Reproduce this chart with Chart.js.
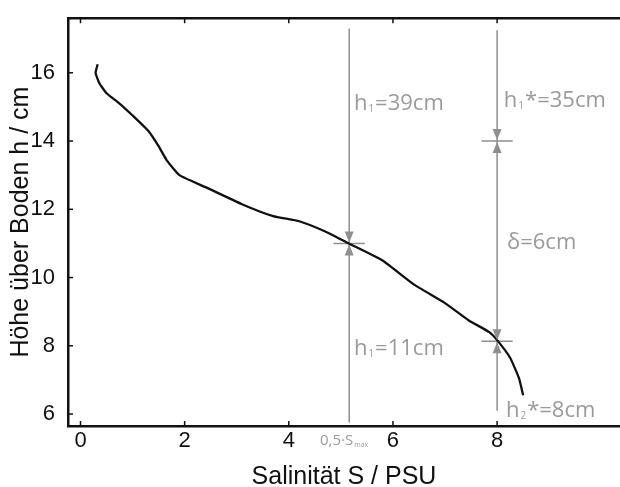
<!DOCTYPE html>
<html>
<head>
<meta charset="utf-8">
<script src="https://cdn.jsdelivr.net/npm/chart.js@4.4.1/dist/chart.umd.min.js"></script>
<style>html,body{margin:0;background:#fff}</style>
</head>
<body>
<canvas id="c" width="620" height="487"></canvas>
<script>
// salinity profile (S in PSU, h in cm)
const salinity=[0.33,0.29,0.36,0.50,0.75,1.00,1.30,1.50,1.65,1.90,2.40,3.10,3.70,4.20,4.70,5.15,5.80,6.40,7.00,7.45,7.85,8.02,8.25,8.42,8.50];
const height  =[16.25,16.0,15.7,15.4,15.1,14.75,14.3,13.85,13.45,13.0,12.65,12.15,11.8,11.65,11.35,11.0,10.5,9.8,9.25,8.75,8.4,8.13,7.65,7.05,6.55];
const xTicks=[0,2,4,6,8];
const yTicks=[6,8,10,12,14,16];
// vertical guide lines: x position, top and bottom end
const guideX=[5.16,8];
const guideTop=[17.3,17.25];
const guideBottom=[5.75,6.1];
// crosses with arrows
const crossX=[5.16,8,8];
const crossY=[11.0,14.0,8.13];

const BLACK='#111', GREY='#8f8f8f', TXT_GREY='#9a9a9a';
const SANS='"Liberation Sans", Arial, sans-serif';
const NOTE='"Open Sans", sans-serif';
const CROSS_HALF=0.3;

const notes=[
  {x:5.25,y:14.9,size:22,parts:[['h'],['1',1],['=39cm']]},
  {x:8.13,y:15.0,size:22,parts:[['h'],['1',1],['*=35cm']]},
  {x:8.19,y:10.83,size:22,parts:[['δ=6cm']]},
  {x:5.25,y:7.72,size:22,parts:[['h'],['1',1],['=11cm']]},
  {x:8.17,y:5.91,size:22,parts:[['h'],['2',1],['*=8cm']]},
  {x:4.6,y:5.08,size:15,parts:[['0,5·S'],['max',1]]}
];

const datasets=[{data:salinity.map((s,i)=>({x:s,y:height[i]})),borderColor:BLACK,borderWidth:2.3,pointRadius:0,tension:0.15,showLine:true}];
guideX.forEach((gx,i)=>datasets.push({data:[{x:gx,y:guideTop[i]},{x:gx,y:guideBottom[i]}],borderColor:GREY,borderWidth:1.5,pointRadius:0,showLine:true}));
crossX.forEach((cx,i)=>datasets.push({data:[{x:cx-CROSS_HALF,y:crossY[i]},{x:cx+CROSS_HALF,y:crossY[i]}],borderColor:GREY,borderWidth:1.5,pointRadius:0,showLine:true}));

const extras={
  id:'extras',
  afterDraw(chart){
    const {ctx,chartArea:a,scales:{x,y}}=chart;
    ctx.save();
    // top frame line and inner ticks
    ctx.strokeStyle=BLACK; ctx.lineWidth=2.5;
    ctx.beginPath(); ctx.moveTo(a.left-1,a.top); ctx.lineTo(a.right,a.top); ctx.stroke();
    ctx.lineWidth=1.5;
    xTicks.forEach(v=>{const px=x.getPixelForValue(v);
      ctx.beginPath(); ctx.moveTo(px,a.bottom); ctx.lineTo(px,a.bottom-5);
      ctx.moveTo(px,a.top); ctx.lineTo(px,a.top+5); ctx.stroke();});
    yTicks.forEach(v=>{const py=y.getPixelForValue(v);
      ctx.beginPath(); ctx.moveTo(a.left,py); ctx.lineTo(a.left+5,py); ctx.stroke();});
    // arrowheads at crosses
    ctx.fillStyle=GREY;
    crossX.forEach((cx,i)=>{
      const px=x.getPixelForValue(cx), py=y.getPixelForValue(crossY[i]);
      [-1,1].forEach(d=>{
        ctx.beginPath(); ctx.moveTo(px,py+d*1); ctx.lineTo(px-4.5,py+d*12); ctx.lineTo(px+4.5,py+d*12); ctx.closePath(); ctx.fill();
      });
    });
    // annotation texts
    ctx.fillStyle=TXT_GREY; ctx.textBaseline='alphabetic'; ctx.textAlign='left';
    notes.forEach(n=>{
      let px=x.getPixelForValue(n.x); const py=y.getPixelForValue(n.y);
      n.parts.forEach(([t,sub])=>{
        const fs=sub?Math.round(n.size*0.45):n.size;
        ctx.font=fs+'px '+NOTE;
        ctx.fillText(t,px+(sub?1:0),py+(sub?2:0));
        px+=ctx.measureText(t).width+(sub?2:0);
      });
    });
    ctx.restore();
  }
};

new Chart(document.getElementById('c'),{
  type:'scatter',
  data:{datasets},
  options:{
    responsive:false,animation:false,
    layout:{padding:{top:15,right:0,left:0,bottom:0}},
    plugins:{legend:{display:false},tooltip:{enabled:false}},
    scales:{
      x:{type:'linear',min:-0.24,max:10.36,
        afterBuildTicks:s=>{s.ticks=xTicks.map(v=>({value:v}));},
        afterFit:s=>{s.height=61;},
        grid:{display:false},
        border:{display:true,color:BLACK,width:2.5},
        ticks:{color:BLACK,font:{family:SANS,size:22},padding:-6,maxRotation:0},
        title:{display:true,text:'Salinität S / PSU',color:BLACK,font:{family:SANS,size:25,lineHeight:1},padding:{top:0,bottom:-3}}},
      y:{type:'linear',min:5.65,max:17.6,
        afterBuildTicks:s=>{s.ticks=yTicks.map(v=>({value:v}));},
        afterFit:s=>{s.width=68;},
        grid:{display:false},
        border:{display:true,color:BLACK,width:2.5},
        ticks:{color:BLACK,font:{family:SANS,size:22},padding:5},
        title:{display:true,text:'Höhe über Boden h / cm',color:BLACK,font:{family:SANS,size:25,lineHeight:1},padding:{top:9,bottom:0}}}
    }
  },
  plugins:[extras]
});
</script>
</body>
</html>
